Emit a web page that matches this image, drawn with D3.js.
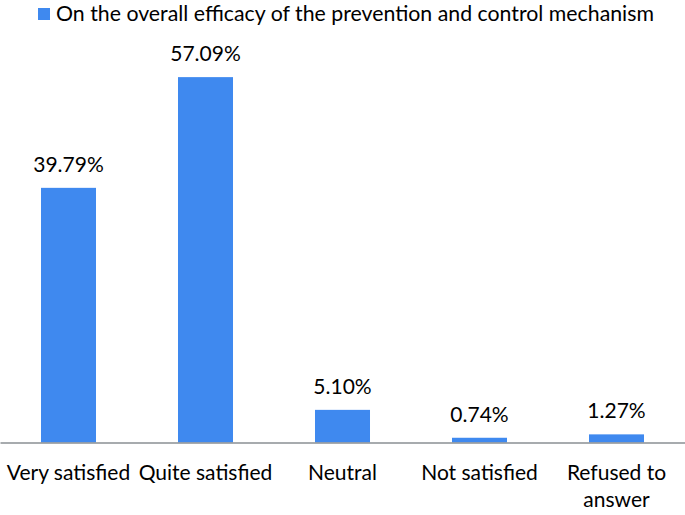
<!DOCTYPE html>
<html>
<head>
<meta charset="utf-8">
<script src="https://cdn.jsdelivr.net/npm/d3@7"></script>
<style>
  html, body { margin: 0; padding: 0; background: #fff; }
  svg { display: block; }
  text { font-family: Lato, "Open Sans", sans-serif; fill: #000; }
</style>
</head>
<body>
<svg id="chart" width="685" height="515"></svg>
<script>
const categories = ["Very satisfied", "Quite satisfied", "Neutral", "Not satisfied", "Refused to answer"];
const categoryLines = [["Very satisfied"], ["Quite satisfied"], ["Neutral"], ["Not satisfied"], ["Refused to", "answer"]];
const values = [39.79, 57.09, 5.10, 0.74, 1.27];
const valueLabels = ["39.79%", "57.09%", "5.10%", "0.74%", "1.27%"];
const seriesName = "On the overall efficacy of the prevention and control mechanism";

const W = 685, H = 515;
const baseY = 442.5;
const barColor = "#3f89ef";

const svg = d3.select("#chart");

const x = d3.scaleBand().domain(categories).range([0, W]).paddingInner(0.5985).paddingOuter(0.29925);
const y = d3.scaleLinear().domain([0, 60]).range([baseY, baseY - 384]);

// bars
svg.append("g").selectAll("rect").data(values).join("rect")
  .attr("x", (d, i) => x(categories[i]))
  .attr("width", x.bandwidth())
  .attr("y", d => y(d))
  .attr("height", d => baseY - y(d))
  .attr("fill", barColor);

// value labels
svg.append("g").selectAll("text").data(values).join("text")
  .attr("x", (d, i) => x(categories[i]) + x.bandwidth() / 2)
  .attr("y", d => y(d) - 16)
  .attr("text-anchor", "middle")
  .attr("font-size", 21)
  .text((d, i) => valueLabels[i]);

// axis
const axis = d3.axisBottom(x).tickSize(0).tickFormat("");
const ag = svg.append("g").attr("transform", `translate(0,${baseY})`).call(axis);
ag.select(".domain").attr("stroke", "#8a8f93").attr("stroke-width", 1.5);

// category labels
const cl = svg.append("g").selectAll("text").data(categories).join("text")
  .attr("x", d => x(d) + x.bandwidth() / 2)
  .attr("y", 480)
  .attr("text-anchor", "middle")
  .attr("font-size", 21);
cl.each(function(d, i) {
  const t = d3.select(this);
  categoryLines[i].forEach((line, j) => {
    t.append("tspan").attr("x", x(d) + x.bandwidth() / 2).attr("dy", j === 0 ? 0 : 27).text(line);
  });
});

// legend
const lg = svg.append("g");
lg.append("rect").attr("x", 38).attr("y", 8).attr("width", 12).attr("height", 12).attr("fill", barColor);
lg.append("text").attr("x", 56).attr("y", 21).attr("font-size", 21.3).text(seriesName);
</script>
</body>
</html>
